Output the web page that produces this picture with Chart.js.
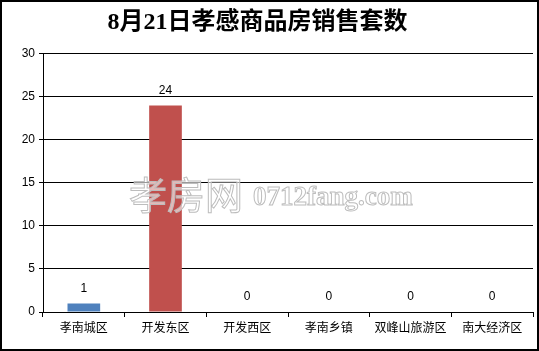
<!DOCTYPE html>
<html>
<head>
<meta charset="utf-8">
<script src="https://cdn.jsdelivr.net/npm/chart.js@4/dist/chart.umd.min.js"></script>
<style>
  body { margin: 0; background: #fff; }
  #wrap { width: 539px; height: 351px; position: relative; }
</style>
</head>
<body>
<div id="wrap"><canvas id="myChart" width="539" height="351"></canvas></div>
<script>
const districts = ["孝南城区", "开发东区", "开发西区", "孝南乡镇", "双峰山旅游区", "南大经济区"];
const sales = [1, 24, 0, 0, 0, 0];
const barColors = ["#4F81BD", "#C0504D", "#9BBB59", "#8064A2", "#4BACC6", "#F79646"];
const yTicks = [0, 5, 10, 15, 20, 25, 30];

const cjk = "'Liberation Sans', 'Noto Sans CJK SC', sans-serif";

// value labels above each bar
const valueLabels = {
  id: 'valueLabels',
  afterDatasetsDraw(chart) {
    const ctx = chart.ctx;
    const meta = chart.getDatasetMeta(0);
    ctx.save();
    ctx.font = "12px " + cjk;
    ctx.fillStyle = "#000";
    ctx.textAlign = "center";
    ctx.textBaseline = "middle";
    meta.data.forEach((bar, i) => {
      ctx.fillText(String(sales[i]), bar.x, bar.y - 15);
    });
    ctx.restore();
  }
};

// site watermark + outer frame
const decor = {
  id: 'decor',
  afterDraw(chart) {
    const ctx = chart.ctx;
    ctx.save();
    ctx.lineWidth = 1;
    ctx.strokeStyle = "#bdbdbd";
    ctx.fillStyle = "rgba(255,255,255,0.6)";
    ctx.textBaseline = "alphabetic";
    ctx.textAlign = "left";
    ctx.font = "38px 'Noto Sans CJK SC', sans-serif";
    ctx.fillText("孝房网", 129, 209);
    ctx.strokeText("孝房网", 129, 209);
    ctx.font = "bold 27px 'Liberation Serif', serif";
    ctx.fillText("0712fang.com", 253, 205);
    ctx.strokeText("0712fang.com", 253, 205);

    ctx.lineWidth = 2;
    ctx.strokeStyle = "#000";
    ctx.strokeRect(1, 1, chart.width - 2, chart.height - 2);
    ctx.restore();
  }
};

new Chart("myChart", {
  type: "bar",
  data: {
    labels: districts,
    datasets: [{
      data: sales,
      backgroundColor: barColors,
      barPercentage: 0.8,
      categoryPercentage: 0.5
    }]
  },
  options: {
    responsive: false,
    animation: false,
    layout: { padding: { left: 0, right: 6, top: 0, bottom: 0 } },
    plugins: {
      legend: { display: false },
      tooltip: { enabled: false },
      title: {
        display: true,
        // trailing spaces nudge the centred title left, as in the original
        text: "8月21日孝感商品房销售套数\u00a0\u00a0\u00a0",
        color: "#000",
        font: { family: "'Liberation Serif', 'Noto Sans CJK SC', serif", size: 24, weight: "bold", lineHeight: 1.2 },
        padding: { top: 8, bottom: 17 }
      }
    },
    scales: {
      x: {
        grid: { display: true, drawOnChartArea: false, color: "#000", tickLength: 5, offset: true },
        border: { color: "#000" },
        ticks: { color: "#000", font: { family: cjk, size: 12 }, padding: 4, maxRotation: 0, autoSkip: false },
        afterFit(scale) { scale.height = 39; }
      },
      y: {
        min: 0,
        max: 30,
        afterBuildTicks(scale) { scale.ticks = yTicks.map(v => ({ value: v })); },
        grid: { color: "#000", tickLength: 4 },
        border: { color: "#000" },
        ticks: { color: "#000", font: { family: cjk, size: 12 }, padding: 4 },
        afterFit(scale) { scale.width = 43; }
      }
    }
  },
  plugins: [valueLabels, decor]
});
</script>
</body>
</html>
